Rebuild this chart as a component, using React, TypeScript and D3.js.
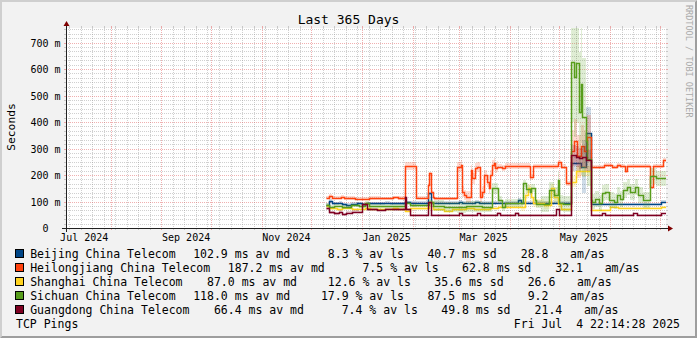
import React from "react";
import * as d3 from "d3";

// ---------- layout ----------
const WIDTH = 697;
const HEIGHT = 338;
const X_ORIGIN = 66;
const X_SIZE = 600;
const Y_ORIGIN = 228;
const Y_SIZE = 200;
const MONO = "'DejaVu Sans Mono', monospace";

// ---------- data ----------
const START = new Date(2024, 6, 4, 22, 14, 28);
const END = new Date(2025, 6, 4, 22, 14, 28);
const Y_MAX_MS = 755;

const titleText = "Last 365 Days";
const yAxisTitle = "Seconds";
const watermark = "RRDTOOL / TOBI OETIKER";
const footerLeft = "TCP Pings";
const footerRight = "Fri Jul  4 22:14:28 2025";

const hostNames = [
  "Beijing China Telecom",
  "Heilongjiang China Telecom",
  "Shanghai China Telecom",
  "Sichuan China Telecom",
  "Guangdong China Telecom",
];
const hostColors = ["#004586", "#ff420e", "#ffd320", "#579d1c", "#7e0021"];

const legendAvMedian = ["102.9", "187.2", "87.0", "118.0", "66.4"];
const legendAvLoss = ["8.3", "7.5", "12.6", "17.9", "7.4"];
const legendSd = ["40.7", "62.8", "35.6", "87.5", "49.8"];
const legendAmAs = ["28.8", "32.1", "26.6", "9.2", "21.4"];

const yTickValues = [0, 100, 200, 300, 400, 500, 600, 700];
const yTickLabels = ["0  ", "100 m", "200 m", "300 m", "400 m", "500 m", "600 m", "700 m"];

// median round-trip time (ms), step changes
const medianBeijing: [string, number][] = [
  ["2024-12-10", 87], ["2024-12-12", 102], ["2024-12-14", 93], ["2024-12-18", 95], ["2024-12-20", 90],
  ["2024-12-22", 87], ["2024-12-25", 92], ["2024-12-29", 94], ["2025-01-01", 90], ["2025-01-04", 93],
  ["2025-01-15", 95], ["2025-01-18", 93], ["2025-01-27", 97], ["2025-01-30", 96], ["2025-02-10", 131],
  ["2025-02-12", 96], ["2025-03-01", 100], ["2025-03-03", 96], ["2025-03-11", 100], ["2025-03-13", 96],
  ["2025-04-06", 106], ["2025-04-08", 95], ["2025-05-08", 244], ["2025-05-14", 231], ["2025-05-17", 357],
  ["2025-05-20", 91], ["2025-07-02", 99],
];
const medianHeilongjiang: [string, number][] = [
  ["2024-12-10", 114], ["2024-12-12", 122], ["2024-12-14", 114], ["2024-12-19", 118], ["2024-12-21", 113],
  ["2024-12-28", 111], ["2025-01-05", 113], ["2025-01-12", 112], ["2025-01-20", 116], ["2025-01-23", 113],
  ["2025-01-27", 234], ["2025-02-03", 114], ["2025-02-10", 162], ["2025-02-11", 206], ["2025-02-12", 137],
  ["2025-02-13", 117], ["2025-02-14", 112], ["2025-02-28", 231], ["2025-03-02", 237], ["2025-03-03", 137],
  ["2025-03-04", 124], ["2025-03-05", 118], ["2025-03-08", 219], ["2025-03-09", 187], ["2025-03-11", 225],
  ["2025-03-12", 231], ["2025-03-14", 118], ["2025-03-15", 137], ["2025-03-16", 200], ["2025-03-18", 175],
  ["2025-03-19", 150], ["2025-03-20", 200], ["2025-03-21", 237], ["2025-03-22", 244], ["2025-03-23", 227],
  ["2025-03-24", 232], ["2025-03-27", 227], ["2025-03-29", 234], ["2025-04-13", 193], ["2025-04-15", 233],
  ["2025-04-30", 248], ["2025-05-02", 232], ["2025-05-05", 168], ["2025-05-08", 290], ["2025-05-10", 330],
  ["2025-05-12", 270], ["2025-05-14", 310], ["2025-05-16", 290], ["2025-05-18", 345], ["2025-05-20", 231],
  ["2025-05-28", 236], ["2025-06-02", 232], ["2025-06-05", 238], ["2025-06-07", 233], ["2025-06-10", 215],
  ["2025-06-11", 233], ["2025-06-25", 155], ["2025-06-27", 233], ["2025-07-03", 256],
];
const medianShanghai: [string, number][] = [
  ["2024-12-10", 84], ["2024-12-12", 74], ["2024-12-17", 71], ["2024-12-20", 75], ["2024-12-26", 72],
  ["2025-01-03", 76], ["2025-01-06", 72], ["2025-01-20", 77], ["2025-01-23", 72], ["2025-01-27", 66],
  ["2025-01-30", 74], ["2025-02-11", 99], ["2025-02-13", 70], ["2025-02-20", 66], ["2025-02-25", 70],
  ["2025-03-05", 74], ["2025-03-10", 70], ["2025-03-20", 76], ["2025-03-25", 80], ["2025-04-10", 124],
  ["2025-04-12", 150], ["2025-04-14", 118], ["2025-04-15", 93], ["2025-04-22", 87], ["2025-04-26", 150],
  ["2025-04-28", 118], ["2025-04-30", 90], ["2025-05-02", 70], ["2025-05-08", 175], ["2025-05-11", 215],
  ["2025-05-20", 68], ["2025-06-01", 80], ["2025-06-06", 74], ["2025-06-12", 77], ["2025-06-14", 74],
  ["2025-06-20", 77], ["2025-06-22", 74], ["2025-07-02", 78],
];
const medianSichuan: [string, number][] = [
  ["2024-12-10", 87], ["2024-12-12", 80], ["2024-12-15", 84], ["2024-12-20", 79], ["2024-12-25", 85],
  ["2024-12-30", 82], ["2025-01-03", 95], ["2025-01-05", 83], ["2025-01-27", 95], ["2025-01-30", 85],
  ["2025-02-11", 100], ["2025-02-13", 84], ["2025-02-20", 80], ["2025-02-28", 78], ["2025-03-05", 82],
  ["2025-03-15", 80], ["2025-03-21", 150], ["2025-03-25", 106], ["2025-03-27", 80], ["2025-03-29", 94],
  ["2025-04-09", 168], ["2025-04-11", 149], ["2025-04-13", 137], ["2025-04-14", 150], ["2025-04-16", 106],
  ["2025-04-17", 90], ["2025-04-25", 143], ["2025-04-28", 124], ["2025-04-30", 181], ["2025-05-01", 95],
  ["2025-05-03", 90], ["2025-05-08", 627], ["2025-05-10", 570], ["2025-05-11", 621], ["2025-05-13", 438],
  ["2025-05-14", 545], ["2025-05-15", 418], ["2025-05-17", 330], ["2025-05-18", 260], ["2025-05-20", 106],
  ["2025-05-21", 100], ["2025-05-23", 109], ["2025-05-25", 96], ["2025-05-27", 131], ["2025-05-29", 137],
  ["2025-05-31", 106], ["2025-06-03", 100], ["2025-06-05", 124], ["2025-06-07", 110], ["2025-06-09", 143],
  ["2025-06-11", 156], ["2025-06-13", 137], ["2025-06-16", 156], ["2025-06-18", 124], ["2025-06-21", 106],
  ["2025-06-25", 195], ["2025-06-29", 187],
];
const medianGuangdong: [string, number][] = [
  ["2024-12-10", 74], ["2024-12-12", 59], ["2024-12-15", 55], ["2024-12-18", 62], ["2024-12-20", 52],
  ["2024-12-22", 58], ["2024-12-26", 62], ["2024-12-30", 60], ["2025-01-01", 89], ["2025-01-04", 70],
  ["2025-01-10", 68], ["2025-01-15", 72], ["2025-01-20", 70], ["2025-01-27", 116], ["2025-01-28", 70],
  ["2025-01-30", 49], ["2025-02-10", 97], ["2025-02-12", 50], ["2025-03-01", 55], ["2025-03-03", 50],
  ["2025-03-12", 55], ["2025-03-14", 50], ["2025-03-24", 58], ["2025-03-26", 50], ["2025-04-04", 58],
  ["2025-04-06", 50], ["2025-04-29", 70], ["2025-05-01", 50], ["2025-05-08", 275], ["2025-05-11", 269],
  ["2025-05-13", 263], ["2025-05-15", 269], ["2025-05-17", 256], ["2025-05-20", 49], ["2025-05-27", 55],
  ["2025-05-29", 49], ["2025-06-15", 55], ["2025-06-17", 49], ["2025-07-02", 55],
];

// standard deviation of the pings (ms), step changes
const sdBeijing: [string, number][] = [
  ["2024-12-10", 12], ["2025-05-08", 60], ["2025-05-15", 200], ["2025-05-20", 10],
];
const sdHeilongjiang: [string, number][] = [
  ["2024-12-10", 12], ["2025-01-27", 30], ["2025-02-03", 12], ["2025-02-28", 40], ["2025-03-25", 20],
  ["2025-05-08", 160], ["2025-05-20", 15],
];
const sdShanghai: [string, number][] = [
  ["2024-12-10", 10], ["2025-04-08", 30], ["2025-05-02", 10], ["2025-05-08", 40], ["2025-05-20", 8],
];
const sdSichuan: [string, number][] = [
  ["2024-12-10", 12], ["2025-02-14", 40], ["2025-03-25", 30], ["2025-04-20", 60], ["2025-05-08", 450],
  ["2025-05-17", 200], ["2025-05-20", 60],
];
const sdGuangdong: [string, number][] = [
  ["2024-12-10", 10], ["2025-01-30", 6], ["2025-05-08", 80], ["2025-05-20", 6],
];

const medians = [medianBeijing, medianHeilongjiang, medianShanghai, medianSichuan, medianGuangdong];
const sds = [sdBeijing, sdHeilongjiang, sdShanghai, sdSichuan, sdGuangdong];

// legend column offsets (px) measured from the end of the host label
const LEGEND_OFFSETS = [17.6, 138.4, 244.9, 338.2, 394.5];

type P = { t: Date; v: number; s: number };

export default function App() {
  const parse = d3.timeParse("%Y-%m-%d");
  const x = d3.scaleTime().domain([START, END]).range([X_ORIGIN, X_ORIGIN + X_SIZE]);
  const y = d3.scaleLinear().domain([0, Y_MAX_MS]).range([Y_ORIGIN, Y_ORIGIN - Y_SIZE]);
  const px = (t: Date) => Math.round(x(t)) + 0.5;
  const py = (v: number) => Math.round(y(v)) + 0.5;
  const X1 = X_ORIGIN + X_SIZE;
  const Y1 = Y_ORIGIN - Y_SIZE;

  const stepAt = (arr: { t: Date; v: number }[], t: Date) => {
    let v = arr[0].v;
    for (const p of arr) {
      if (+p.t <= +t) v = p.v;
      else break;
    }
    return v;
  };

  const series = hostNames.map((name, i) => {
    const med = medians[i].map(([d, v]) => ({ t: parse(d) as Date, v }));
    const sd = sds[i].map(([d, v]) => ({ t: parse(d) as Date, v }));
    const first = +med[0].t;
    const times = Array.from(new Set([...med, ...sd].map((p) => +p.t)))
      .filter((tt) => tt >= first)
      .sort((a, b) => a - b)
      .map((tt) => new Date(tt));
    const pts: P[] = times.map((t) => ({ t, v: stepAt(med, t), s: stepAt(sd, t) }));
    const last = pts[pts.length - 1];
    pts.push({ t: END, v: last.v, s: last.s });
    const line = d3
      .line<P>()
      .x((d) => px(d.t))
      .y((d) => py(d.v))
      .curve(d3.curveStepAfter)(pts);
    const area = d3
      .area<P>()
      .x((d) => Math.round(x(d.t)))
      .y0((d) => Math.round(y(Math.max(0, d.v - d.s / 2))))
      .y1((d) => Math.round(y(d.v + d.s / 2)))
      .curve(d3.curveStepAfter)(pts);
    return { name, color: hostColors[i], line, area };
  });

  // grid
  const majorMonths = d3.timeMonth.range(START, END);
  const majorSet = new Set(majorMonths.map((d) => +d));
  const minorWeeks = d3.timeSunday.range(START, END).filter((d) => !majorSet.has(+d));
  const labelMonths = d3.timeMonth
    .every(2)!
    .range(d3.timeMonth.floor(START), END)
    .filter((d) => +d3.timeDay.offset(d, 15) <= +END);
  const fmtMonth = d3.timeFormat("%b %Y");
  const minorStep = 100 / 6;
  const minorValues: number[] = [];
  for (let k = 1; k * minorStep <= Y_MAX_MS; k++) {
    if (k % 6 !== 0) minorValues.push(k * minorStep);
  }

  const gridColor = "#8f8f8f";
  const gridOpacity = 0.42;
  const mgridColor = "#de4f4f";
  const mgridOpacity = 0.45;

  const CW = 11.5 * 0.602;

  return (
    <svg
      width={WIDTH}
      height={HEIGHT}
      style={{ position: "absolute", left: 0, top: 0 }}
      fontFamily={MONO}
    >
      <defs>
        <clipPath id="plotclip">
          <rect x={X_ORIGIN} y={Y1} width={X_SIZE} height={Y_SIZE} />
        </clipPath>
      </defs>
      <rect x={0} y={0} width={WIDTH} height={HEIGHT} fill="#f2f2f2" />
      <polygon
        points={`0,${HEIGHT} 2,${HEIGHT - 2} 2,2 ${WIDTH - 2},2 ${WIDTH},0 0,0`}
        fill="#cfcfcf"
      />
      <polygon
        points={`2,${HEIGHT - 2} ${WIDTH - 2},${HEIGHT - 2} ${WIDTH - 2},2 ${WIDTH},0 ${WIDTH},${HEIGHT} 0,${HEIGHT}`}
        fill="#9e9e9e"
      />
      <rect x={X_ORIGIN} y={Y1} width={X_SIZE} height={Y_SIZE} fill="#ffffff" />

      {/* minor grid */}
      <g stroke={gridColor} strokeOpacity={gridOpacity} strokeWidth={1}>
        {minorValues.map((v) => (
          <g key={"hm" + v}>
            <line x1={X_ORIGIN - 2} x2={X_ORIGIN} y1={py(v)} y2={py(v)} />
            <line x1={X1} x2={X1 + 2} y1={py(v)} y2={py(v)} />
            <line x1={X_ORIGIN} x2={X1} y1={py(v)} y2={py(v)} strokeDasharray="1,1" />
          </g>
        ))}
        {minorWeeks.map((d) => (
          <g key={"vm" + +d}>
            <line x1={px(d)} x2={px(d)} y1={Y1 - 2} y2={Y1} />
            <line x1={px(d)} x2={px(d)} y1={Y_ORIGIN} y2={Y_ORIGIN + 2} />
            <line x1={px(d)} x2={px(d)} y1={Y1} y2={Y_ORIGIN} strokeDasharray="1,1" />
          </g>
        ))}
      </g>
      {/* major grid */}
      <g stroke={mgridColor} strokeOpacity={mgridOpacity} strokeWidth={1}>
        {yTickValues.map((v) => (
          <g key={"hM" + v}>
            <line x1={X_ORIGIN - 2} x2={X_ORIGIN} y1={py(v)} y2={py(v)} />
            <line x1={X1} x2={X1 + 2} y1={py(v)} y2={py(v)} />
            <line x1={X_ORIGIN} x2={X1} y1={py(v)} y2={py(v)} strokeDasharray="1,1" />
          </g>
        ))}
        {majorMonths.map((d) => (
          <g key={"vM" + +d}>
            <line x1={px(d)} x2={px(d)} y1={Y1 - 2} y2={Y1} />
            <line x1={px(d)} x2={px(d)} y1={Y_ORIGIN} y2={Y_ORIGIN + 2} />
            <line x1={px(d)} x2={px(d)} y1={Y1} y2={Y_ORIGIN} strokeDasharray="1,1" />
          </g>
        ))}
      </g>

      {/* data: smoke + median line per host */}
      <g clipPath="url(#plotclip)">
        {series.map((s) => (
          <g key={s.name}>
            <path d={s.area || ""} fill={s.color} fillOpacity={0.19} stroke="none" />
            <path d={s.line || ""} fill="none" stroke={s.color} strokeWidth={1.5} />
          </g>
        ))}
      </g>

      {/* axes */}
      <line x1={X_ORIGIN - 4} x2={X1 + 4} y1={Y_ORIGIN + 0.5} y2={Y_ORIGIN + 0.5} stroke="#212121" strokeWidth={1} />
      <line x1={X_ORIGIN + 0.5} x2={X_ORIGIN + 0.5} y1={Y_ORIGIN + 4} y2={Y1 - 4} stroke="#212121" strokeWidth={1} />
      <polygon
        points={`${X1 + 2},${Y_ORIGIN - 2.5} ${X1 + 2},${Y_ORIGIN + 3.5} ${X1 + 7},${Y_ORIGIN + 0.5}`}
        fill="#7f0000"
      />
      <polygon
        points={`${X_ORIGIN - 2.5},${Y1 - 2} ${X_ORIGIN + 3.5},${Y1 - 2} ${X_ORIGIN + 0.5},${Y1 - 7}`}
        fill="#7f0000"
      />

      {/* y labels */}
      <g fontSize={10} fill="#000" textAnchor="end">
        {yTickValues.map((v, i) => (
          <text key={"yl" + v} x={60.5} y={py(v) + 3.5} xmlSpace="preserve" style={{ whiteSpace: "pre" }}>
            {yTickLabels[i]}
          </text>
        ))}
      </g>
      {/* x labels */}
      <g fontSize={10} fill="#000" textAnchor="middle">
        {labelMonths.map((d) => (
          <text key={"xl" + +d} x={x(d3.timeDay.offset(d, 15))} y={240.5}>
            {fmtMonth(d)}
          </text>
        ))}
      </g>

      {/* title */}
      <text x={WIDTH / 2} y={24} fontSize={13} textAnchor="middle" fill="#000">
        {titleText}
      </text>
      <text
        x={15}
        y={127}
        fontSize={11.3}
        textAnchor="middle"
        fill="#000"
        transform="rotate(-90 15 127)"
      >
        {yAxisTitle}
      </text>
      <text x={685.5} y={5} fontSize={8.5} fill="#aaaaaa" transform="rotate(90 685.5 5)">
        {watermark}
      </text>

      {/* legend */}
      <g fontSize={11.5} fill="#000">
        {series.map((s, i) => {
          const base = 258 + i * 14;
          const labelEnd = 30.2 + hostNames[i].length * CW;
          const parts = [
            legendAvMedian[i].padStart(5) + " ms av md",
            legendAvLoss[i].padStart(5) + " % av ls",
            legendSd[i].padStart(5) + " ms sd",
            legendAmAs[i].padStart(5),
            "am/as",
          ];
          return (
            <g key={"lg" + i}>
              <rect x={15.5} y={base - 8.5} width={8} height={8} fill={s.color} stroke="#000" strokeWidth={1} />
              <text x={30.2} y={base}>{hostNames[i]}</text>
              {parts.map((p, j) => (
                <text
                  key={j}
                  x={labelEnd + LEGEND_OFFSETS[j]}
                  y={base}
                  xmlSpace="preserve"
                  style={{ whiteSpace: "pre" }}
                >
                  {p}
                </text>
              ))}
            </g>
          );
        })}
        <text x={16} y={328}>{footerLeft}</text>
        <text x={680} y={328} textAnchor="end" xmlSpace="preserve" style={{ whiteSpace: "pre" }}>
          {footerRight}
        </text>
      </g>
    </svg>
  );
}
